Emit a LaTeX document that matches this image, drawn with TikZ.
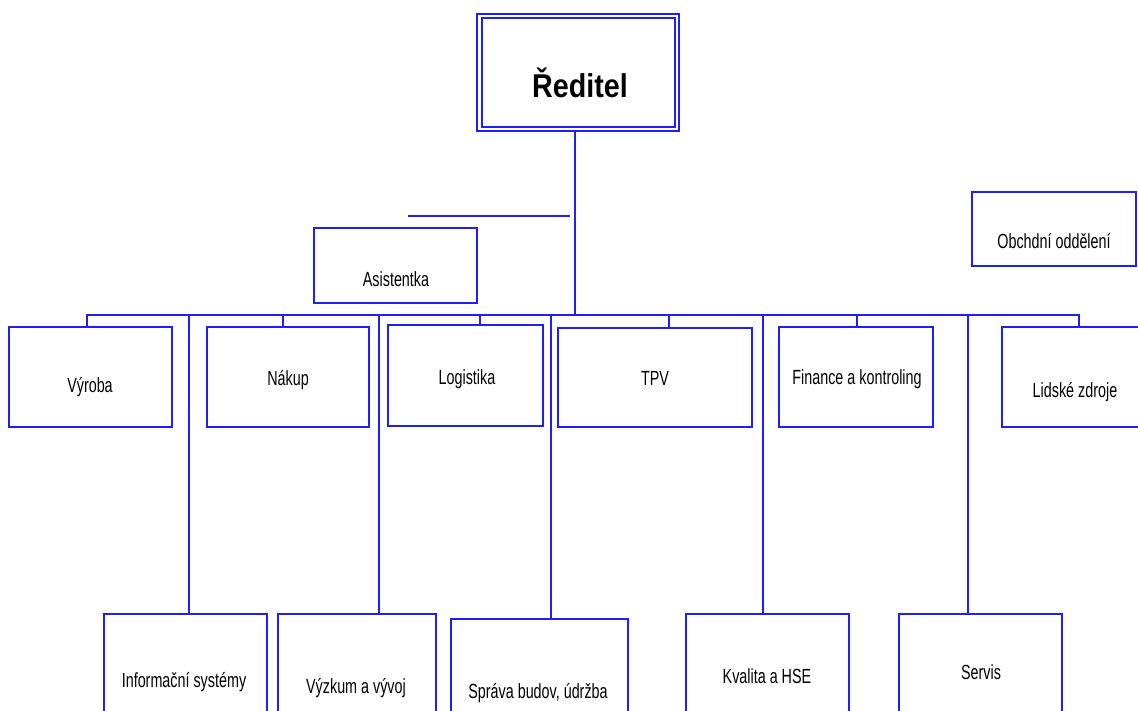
\documentclass[tikz,border=0pt]{standalone}
\usepackage{fontspec}
\setmainfont{Liberation Sans}
\newfontfamily\narrowfont[FakeStretch=0.7]{Liberation Sans}
\newfontfamily\titlefont[FakeStretch=0.87]{Liberation Sans}
\definecolor{orgblue}{RGB}{30,30,255}
\begin{document}
\begin{tikzpicture}[x=1pt,y=-1pt,
  box/.style={draw=orgblue,line width=2pt,inner sep=0pt},
  lbl/.style={font=\narrowfont\fontsize{20.5}{24}\selectfont,anchor=base,inner sep=0pt,text=black},
  link/.style={draw=orgblue,line width=2pt,line join=miter}]
\useasboundingbox (0,0) rectangle (1138,711);
\clip (0,0) rectangle (1138,711);
% director
\node[draw=orgblue,line width=2pt,double,double distance=2.5pt,inner sep=0pt,
      minimum width=197.5pt,minimum height=113pt] (reditel) at (578,72.5) {};
\node[font=\titlefont\bfseries\fontsize{33}{38}\selectfont,anchor=base,inner sep=0pt] (t-reditel) at (580,98) {Ředitel};
% boxes
\node[box,minimum width=163pt,minimum height=75pt]  (asist)   at (395.5,265.5) {};
\node[box,minimum width=164pt,minimum height=74pt]  (obchod)  at (1054,229) {};
\node[box,minimum width=163pt,minimum height=100pt] (vyroba)  at (90.5,377) {};
\node[box,minimum width=162pt,minimum height=100pt] (nakup)   at (288,377) {};
\node[box,minimum width=155pt,minimum height=101pt] (logist)  at (465.5,375.5) {};
\node[box,minimum width=194pt,minimum height=99pt]  (tpv)     at (655,377.5) {};
\node[box,minimum width=154pt,minimum height=100pt] (finance) at (856,377) {};
\node[box,minimum width=158pt,minimum height=100pt] (lidske)  at (1081,377) {};
\node[box,minimum width=163pt,minimum height=126pt] (info)    at (185.5,677) {};
\node[box,minimum width=158pt,minimum height=126pt] (vyzkum)  at (357,677) {};
\node[box,minimum width=177pt,minimum height=121pt] (sprava)  at (539.5,679.5) {};
\node[box,minimum width=163pt,minimum height=126pt] (kvalita) at (767.5,677) {};
\node[box,minimum width=163pt,minimum height=126pt] (servis)  at (980.5,677) {};
% labels
\node[lbl] (t-asist)   at (396,287)  {Asistentka};
\node[lbl] (t-obchod)  at (1054,249) {Obchdní oddělení};
\node[lbl] (t-vyroba)  at (90,392)   {Výroba};
\node[lbl] (t-nakup)   at (288,385)  {Nákup};
\node[lbl] (t-logist)  at (467,384)  {Logistika};
\node[lbl] (t-tpv)     at (655,385)  {TPV};
\node[lbl] (t-finance) at (857,384)  {Finance a kontroling};
\node[lbl] (t-lidske)  at (1075,397) {Lidské zdroje};
\node[lbl] (t-info)    at (184,687)  {Informační systémy};
\node[lbl] (t-vyzkum)  at (356,693)  {Výzkum a vývoj};
\node[lbl] (t-sprava)  at (538,698)  {Správa budov, údržba};
\node[lbl] (t-kvalita) at (767,683)  {Kvalita a HSE};
\node[lbl] (t-servis)  at (981,679)  {Servis};
% bus coordinates
\coordinate (r0) at (575,315);
\coordinate (s1) at (87,315);
\coordinate (s2) at (283,315);
\coordinate (s3) at (480,315);
\coordinate (s4) at (669,315);
\coordinate (s5) at (857,315);
\coordinate (s6) at (1079,315);
\coordinate (v1) at (189,315);
\coordinate (v2) at (379,315);
\coordinate (v3) at (551,315);
\coordinate (v4) at (763,315);
\coordinate (v5) at (968,315);
\coordinate (h1) at (408,216);
\coordinate (h2) at (570,216);
% connectors
\draw[link] (reditel.south -| r0) -- (r0);
\draw[link] (s1 |- vyroba.north) -- (s1) -- (s6) -- (s6 |- lidske.north);
\draw[link] (s2) -- (s2 |- nakup.north);
\draw[link] (s3) -- (s3 |- logist.north);
\draw[link] (s4) -- (s4 |- tpv.north);
\draw[link] (s5) -- (s5 |- finance.north);
\draw[link] (v1) -- (v1 |- info.north);
\draw[link] (v2) -- (v2 |- vyzkum.north);
\draw[link] (v3) -- (v3 |- sprava.north);
\draw[link] (v4) -- (v4 |- kvalita.north);
\draw[link] (v5) -- (v5 |- servis.north);
\draw[orgblue,line width=1.2pt] (h1) -- (h2);
\end{tikzpicture}
\end{document}
